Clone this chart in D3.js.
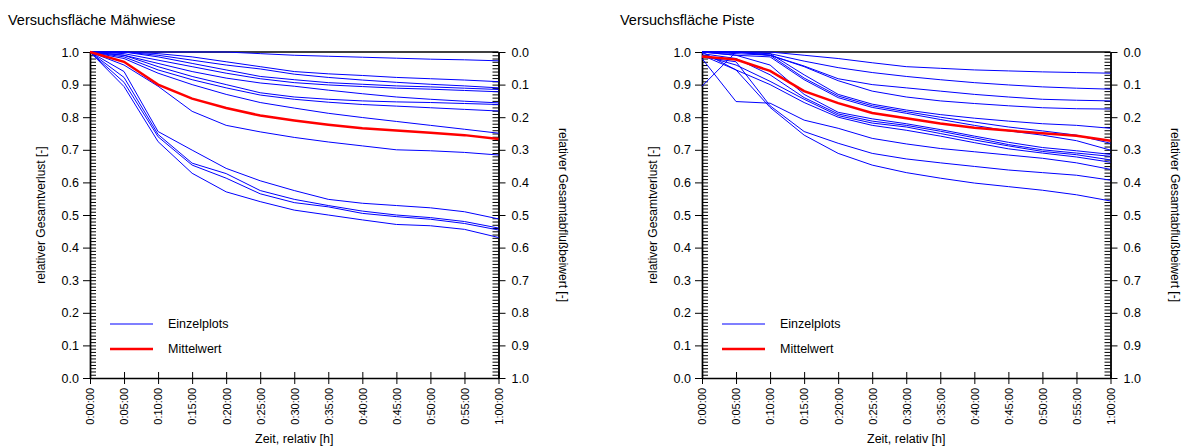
<!DOCTYPE html>
<html>
<head>
<meta charset="utf-8">
<script src="https://cdn.jsdelivr.net/npm/d3@7"></script>
<style>
  body { margin: 0; background: #fff; }
  svg { display: block; }
  text { font-family: "Liberation Sans", Arial, sans-serif; fill: #000; }
</style>
</head>
<body>
<svg id="chart" width="1183" height="448"></svg>
<script>
// time axis (minutes after start) and its labels
const minutes = [0, 5, 10, 15, 20, 25, 30, 35, 40, 45, 50, 55, 60];
const xTickLabels = ["0:00:00", "0:05:00", "0:10:00", "0:15:00", "0:20:00", "0:25:00", "0:30:00",
  "0:35:00", "0:40:00", "0:45:00", "0:50:00", "0:55:00", "1:00:00"];
const yTicks = [0, 0.1, 0.2, 0.3, 0.4, 0.5, 0.6, 0.7, 0.8, 0.9, 1.0];

const titles = ["Versuchsfläche Mähwiese", "Versuchsfläche Piste"];
const legendLabels = ["Einzelplots", "Mittelwert"];

// Versuchsfläche Mähwiese - single plots
const maehwieseEinzel = [
  [1, 1, 1, 1, 1, 0.995, 0.99, 0.987, 0.984, 0.981, 0.978, 0.976, 0.973],
  [1, 1, 0.995, 0.985, 0.97, 0.955, 0.94, 0.933, 0.928, 0.922, 0.918, 0.914, 0.909],
  [1, 1, 0.99, 0.975, 0.96, 0.948, 0.932, 0.922, 0.914, 0.907, 0.901, 0.896, 0.890],
  [1, 1, 0.985, 0.965, 0.945, 0.925, 0.915, 0.906, 0.901, 0.896, 0.893, 0.889, 0.885],
  [1, 0.995, 0.975, 0.955, 0.935, 0.918, 0.906, 0.899, 0.894, 0.889, 0.886, 0.882, 0.878],
  [1, 0.99, 0.965, 0.94, 0.92, 0.905, 0.895, 0.883, 0.872, 0.862, 0.855, 0.849, 0.844],
  [1, 0.99, 0.955, 0.925, 0.9, 0.875, 0.862, 0.855, 0.85, 0.847, 0.845, 0.842, 0.839],
  [1, 0.985, 0.945, 0.915, 0.89, 0.868, 0.855, 0.846, 0.839, 0.834, 0.829, 0.824, 0.819],
  [1, 0.98, 0.935, 0.9, 0.87, 0.845, 0.828, 0.812, 0.799, 0.787, 0.775, 0.763, 0.751],
  [1, 0.96, 0.895, 0.818, 0.775, 0.755, 0.738, 0.724, 0.712, 0.700, 0.697, 0.692, 0.684],
  [1, 0.94, 0.756, 0.699, 0.643, 0.605, 0.575, 0.548, 0.536, 0.529, 0.522, 0.510, 0.488],
  [1, 0.922, 0.747, 0.659, 0.627, 0.575, 0.548, 0.529, 0.512, 0.500, 0.492, 0.480, 0.460],
  [1, 0.907, 0.740, 0.653, 0.613, 0.565, 0.538, 0.525, 0.505, 0.495, 0.487, 0.474, 0.454],
  [1, 0.894, 0.725, 0.628, 0.571, 0.541, 0.515, 0.500, 0.485, 0.471, 0.467, 0.456, 0.431]
];
const maehwieseMittel = [1, 0.97, 0.90, 0.857, 0.828, 0.805, 0.79, 0.777, 0.766, 0.759, 0.752, 0.745, 0.733];

// Versuchsfläche Piste - single plots
const pisteEinzel = [
  [1, 1, 1, 0.99, 0.98, 0.967, 0.955, 0.95, 0.945, 0.942, 0.939, 0.937, 0.935],
  [1, 1, 0.995, 0.972, 0.952, 0.937, 0.925, 0.915, 0.906, 0.899, 0.893, 0.889, 0.886],
  [1, 1, 0.99, 0.957, 0.918, 0.9, 0.89, 0.88, 0.87, 0.862, 0.855, 0.852, 0.850],
  [1, 1, 0.99, 0.955, 0.912, 0.88, 0.862, 0.85, 0.842, 0.835, 0.829, 0.826, 0.825],
  [0.895, 1, 0.995, 0.93, 0.87, 0.84, 0.822, 0.808, 0.797, 0.788, 0.78, 0.775, 0.766],
  [1, 0.995, 0.99, 0.92, 0.865, 0.835, 0.817, 0.8, 0.785, 0.77, 0.758, 0.745, 0.720],
  [1, 0.99, 0.985, 0.915, 0.86, 0.83, 0.812, 0.793, 0.775, 0.758, 0.745, 0.728, 0.699],
  [1, 0.99, 0.96, 0.87, 0.815, 0.795, 0.78, 0.762, 0.742, 0.723, 0.707, 0.697, 0.686],
  [0.995, 0.98, 0.93, 0.86, 0.81, 0.788, 0.775, 0.757, 0.737, 0.716, 0.70, 0.69, 0.680],
  [0.99, 0.96, 0.91, 0.855, 0.805, 0.782, 0.77, 0.75, 0.73, 0.712, 0.695, 0.685, 0.669],
  [1, 0.945, 0.90, 0.845, 0.80, 0.775, 0.76, 0.742, 0.722, 0.703, 0.69, 0.678, 0.662],
  [0.98, 0.848, 0.843, 0.791, 0.766, 0.735, 0.718, 0.704, 0.694, 0.684, 0.674, 0.66, 0.640],
  [0.985, 0.97, 0.835, 0.756, 0.72, 0.689, 0.672, 0.66, 0.649, 0.638, 0.630, 0.622, 0.607],
  [0.99, 0.945, 0.83, 0.745, 0.689, 0.653, 0.63, 0.613, 0.598, 0.587, 0.576, 0.562, 0.543]
];
const pisteMittel = [0.986, 0.977, 0.942, 0.88, 0.843, 0.813, 0.797, 0.781, 0.768, 0.759, 0.751, 0.743, 0.728];

const svg = d3.select("#chart");

const plotTop = 52, plotBottom = 378, plotW = 408.5;

//draws one panel, x0 is the left edge of the plot area
function drawPanel(x0, title, einzel, mittel) {
  const g = svg.append("g");

  const x = d3.scaleLinear().domain([0, 60]).range([x0, x0 + plotW]);
  const y = d3.scaleLinear().domain([0, 1]).range([plotBottom, plotTop]);
  const y2 = d3.scaleLinear().domain([0, 1]).range([plotTop, plotBottom]);
  const minor = d3.range(0, 101).map(d => d / 100);

  //title
  g.append("text")
    .attr("x", x0 - 82)
    .attr("y", 25)
    .style("font-size", "14.5px")
    .text(title);

  //top frame
  g.append("line")
    .attr("x1", x0).attr("x2", x0 + plotW)
    .attr("y1", plotTop).attr("y2", plotTop)
    .attr("stroke", "#000").attr("stroke-width", 1.3);

  //left axis: minor ticks inside, major ticks + labels outside
  g.append("g").attr("transform", `translate(${x0},0)`)
    .call(d3.axisRight(y).tickValues(minor).tickSize(6).tickSizeOuter(0).tickFormat(""));
  const left = g.append("g").attr("transform", `translate(${x0},0)`)
    .call(d3.axisLeft(y).tickValues(yTicks).tickSize(7).tickSizeOuter(0).tickFormat(d3.format(".1f")));
  left.selectAll("text").attr("x", -11).style("font-size", "12.5px");

  //right axis
  g.append("g").attr("transform", `translate(${x0 + plotW},0)`)
    .call(d3.axisLeft(y2).tickValues(minor).tickSize(6).tickSizeOuter(0).tickFormat(""));
  const right = g.append("g").attr("transform", `translate(${x0 + plotW},0)`)
    .call(d3.axisRight(y2).tickValues(yTicks).tickSize(7).tickSizeOuter(0).tickFormat(d3.format(".1f")));
  right.selectAll("text").attr("x", 13).style("font-size", "12.5px");

  //bottom axis, ticks cross the line
  const bottom = g.append("g").attr("transform", `translate(0,${plotBottom})`);
  bottom.call(d3.axisBottom(x).tickValues(minutes).tickSize(6).tickSizeOuter(0)
    .tickFormat((d, i) => xTickLabels[i]));
  bottom.selectAll(".tick line").attr("y1", -6);
  bottom.selectAll("text")
    .attr("x", -10).attr("y", 0).attr("dy", "0.35em")
    .attr("transform", "rotate(-90)")
    .style("text-anchor", "end")
    .style("font-size", "11px");

  g.selectAll(".domain").attr("stroke-width", 1.4);
  g.selectAll(".tick line").attr("stroke-width", 1);
  g.selectAll(".tick text").style("font-family", "\"Liberation Sans\", Arial, sans-serif");

  //axis titles
  const midY = (plotTop + plotBottom) / 2;
  g.append("text")
    .attr("transform", `translate(${x0 - 45},${midY}) rotate(-90)`)
    .attr("text-anchor", "middle")
    .style("font-size", "12px")
    .text("relativer Gesamtverlust [-]");
  g.append("text")
    .attr("transform", `translate(${x0 + plotW + 60},${midY}) rotate(90)`)
    .attr("text-anchor", "middle")
    .style("font-size", "12px")
    .text("relativer Gesamtabflußbeiwert [-]");
  g.append("text")
    .attr("x", x(30)).attr("y", 443)
    .attr("text-anchor", "middle")
    .style("font-size", "12.5px")
    .text("Zeit, relativ [h]");

  const line = d3.line()
    .x((d, i) => x(minutes[i]))
    .y(d => y(d));

  //single plots
  g.selectAll(".einzel")
    .data(einzel)
    .enter().append("path")
    .attr("class", "einzel")
    .attr("d", line)
    .attr("fill", "none")
    .attr("stroke", "#0000ff")
    .attr("stroke-width", 1);

  //mean
  g.append("path")
    .attr("d", line(mittel))
    .attr("fill", "none")
    .attr("stroke", "#ff0000")
    .attr("stroke-width", 2.5);

  //legend
  const legend = [
    { label: legendLabels[0], color: "#0000ff", w: 1.2, ly: 324 },
    { label: legendLabels[1], color: "#ff0000", w: 2.5, ly: 349 }
  ];
  legend.forEach(l => {
    g.append("line")
      .attr("x1", x0 + 20).attr("x2", x0 + 63)
      .attr("y1", l.ly).attr("y2", l.ly)
      .attr("stroke", l.color).attr("stroke-width", l.w);
    g.append("text")
      .attr("x", x0 + 78).attr("y", l.ly).attr("dy", "0.35em")
      .style("font-size", "12.5px")
      .text(l.label);
  });
}

drawPanel(90, titles[0], maehwieseEinzel, maehwieseMittel);
drawPanel(702, titles[1], pisteEinzel, pisteMittel);
</script>
</body>
</html>
